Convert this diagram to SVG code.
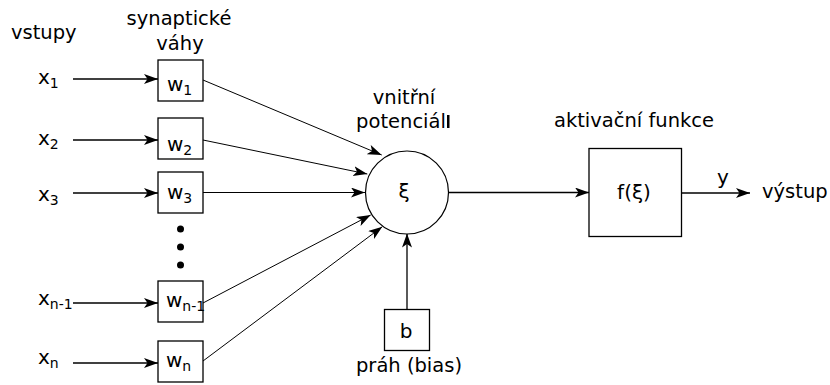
<svg xmlns="http://www.w3.org/2000/svg" width="830" height="385" viewBox="0 0 830 385">
  <defs>
    <marker id="arrow" markerUnits="userSpaceOnUse" markerWidth="15" markerHeight="11" refX="14" refY="5" orient="auto">
      <path d="M0,0 L14,5 L0,10 L3.5,5 Z" fill="#000"/>
    </marker>
    <style>
      text { font-family: "DejaVu Sans", "Liberation Sans", sans-serif; fill: #000; }
      .lbl { font-size: 20px; }
      .head { font-size: 19.5px; }
      .sub { font-size: 14px; }
      .box { fill: #fff; stroke: #000; stroke-width: 1.3; }
      .link { fill: none; stroke: #000; stroke-width: 1.3; marker-end: url(#arrow); }
      .thin { fill: none; stroke: #000; stroke-width: 1; marker-end: url(#arrow); }
    </style>
  </defs>

  <rect width="830" height="385" fill="#fff"/>

  <!-- column headings -->
  <text class="head" x="11" y="39">vstupy</text>
  <text class="head" x="179" y="25" text-anchor="middle">synaptické</text>
  <text class="head" x="180" y="50" text-anchor="middle">váhy</text>
  <text class="head" x="404" y="104" text-anchor="middle">vnitřní</text>
  <text class="head" x="401" y="128" text-anchor="middle">potenciál</text>
  <rect x="447" y="115" width="2.5" height="13" fill="#000"/>
  <text class="head" x="634" y="127" text-anchor="middle">aktivační funkce</text>

  <!-- connectors -->
  <g id="connectors">
    <line class="link" x1="73" y1="79" x2="158" y2="79"/>
    <line class="link" x1="73" y1="140" x2="158" y2="140"/>
    <line class="link" x1="73" y1="193" x2="158" y2="193"/>
    <line class="link" x1="73" y1="303" x2="158" y2="303"/>
    <line class="link" x1="73" y1="363" x2="158" y2="363"/>

    <line class="thin" x1="203" y1="80" x2="381.7" y2="155"/>
    <line class="thin" x1="203" y1="140" x2="367.3" y2="174"/>
    <line class="thin" x1="203" y1="192.5" x2="365" y2="192.5"/>
    <line class="thin" x1="203" y1="303" x2="370.7" y2="215"/>
    <line class="thin" x1="203" y1="361" x2="382.3" y2="226.7"/>

    <line class="link" x1="407" y1="309" x2="407" y2="233.5"/>
    <line class="link" x1="449" y1="192.5" x2="589" y2="192.5"/>
    <line class="link" x1="682" y1="193" x2="750" y2="193"/>
  </g>

  <!-- inputs -->
  <g id="x1"><text class="lbl" x="38" y="84">x<tspan class="sub" dy="4">1</tspan></text></g>
  <g id="x2"><text class="lbl" x="38" y="145">x<tspan class="sub" dy="4">2</tspan></text></g>
  <g id="x3"><text class="lbl" x="38" y="201">x<tspan class="sub" dy="4">3</tspan></text></g>
  <g id="xn1"><text class="lbl" x="38" y="305">x<tspan class="sub" dy="4">n-1</tspan></text></g>
  <g id="xn"><text class="lbl" x="38" y="364">x<tspan class="sub" dy="4">n</tspan></text></g>

  <!-- synaptic weights -->
  <g id="w1">
    <rect class="box" x="158" y="60" width="45" height="41"/>
    <text class="lbl" x="167" y="91">w<tspan class="sub" dy="4">1</tspan></text>
  </g>
  <g id="w2">
    <rect class="box" x="158" y="118" width="45" height="41"/>
    <text class="lbl" x="167" y="151">w<tspan class="sub" dy="4">2</tspan></text>
  </g>
  <g id="w3">
    <rect class="box" x="158" y="172" width="45" height="41"/>
    <text class="lbl" x="167" y="199">w<tspan class="sub" dy="4">3</tspan></text>
  </g>
  <g id="dots">
    <circle cx="180.5" cy="229" r="3.5" fill="#000"/>
    <circle cx="180.5" cy="247" r="3.5" fill="#000"/>
    <circle cx="180.5" cy="265" r="3.5" fill="#000"/>
  </g>
  <g id="wn1">
    <rect class="box" x="158" y="281" width="45" height="41"/>
    <text class="lbl" x="166" y="307">w<tspan class="sub" dy="4">n-1</tspan></text>
  </g>
  <g id="wn">
    <rect class="box" x="158" y="341" width="45" height="41"/>
    <text class="lbl" x="166" y="367">w<tspan class="sub" dy="4">n</tspan></text>
  </g>

  <!-- inner potential -->
  <g id="potential">
    <circle cx="407" cy="192.5" r="41.5" fill="#fff" stroke="#000" stroke-width="1.2"/>
    <text class="lbl" x="404" y="198" text-anchor="middle">ξ</text>
  </g>

  <!-- threshold -->
  <g id="bias">
    <rect class="box" x="384.5" y="309.5" width="45" height="41"/>
    <text class="lbl" x="406" y="338" text-anchor="middle">b</text>
    <text class="head" x="409" y="372" text-anchor="middle">práh (bias)</text>
  </g>

  <!-- activation function -->
  <g id="activation">
    <rect class="box" x="589" y="148.5" width="92.5" height="88"/>
    <text class="lbl" x="634" y="199" text-anchor="middle">f(ξ)</text>
  </g>

  <!-- output -->
  <g id="output">
    <text class="lbl" x="723" y="184" text-anchor="middle">y</text>
    <text class="head" x="762" y="198">výstup</text>
  </g>
</svg>
